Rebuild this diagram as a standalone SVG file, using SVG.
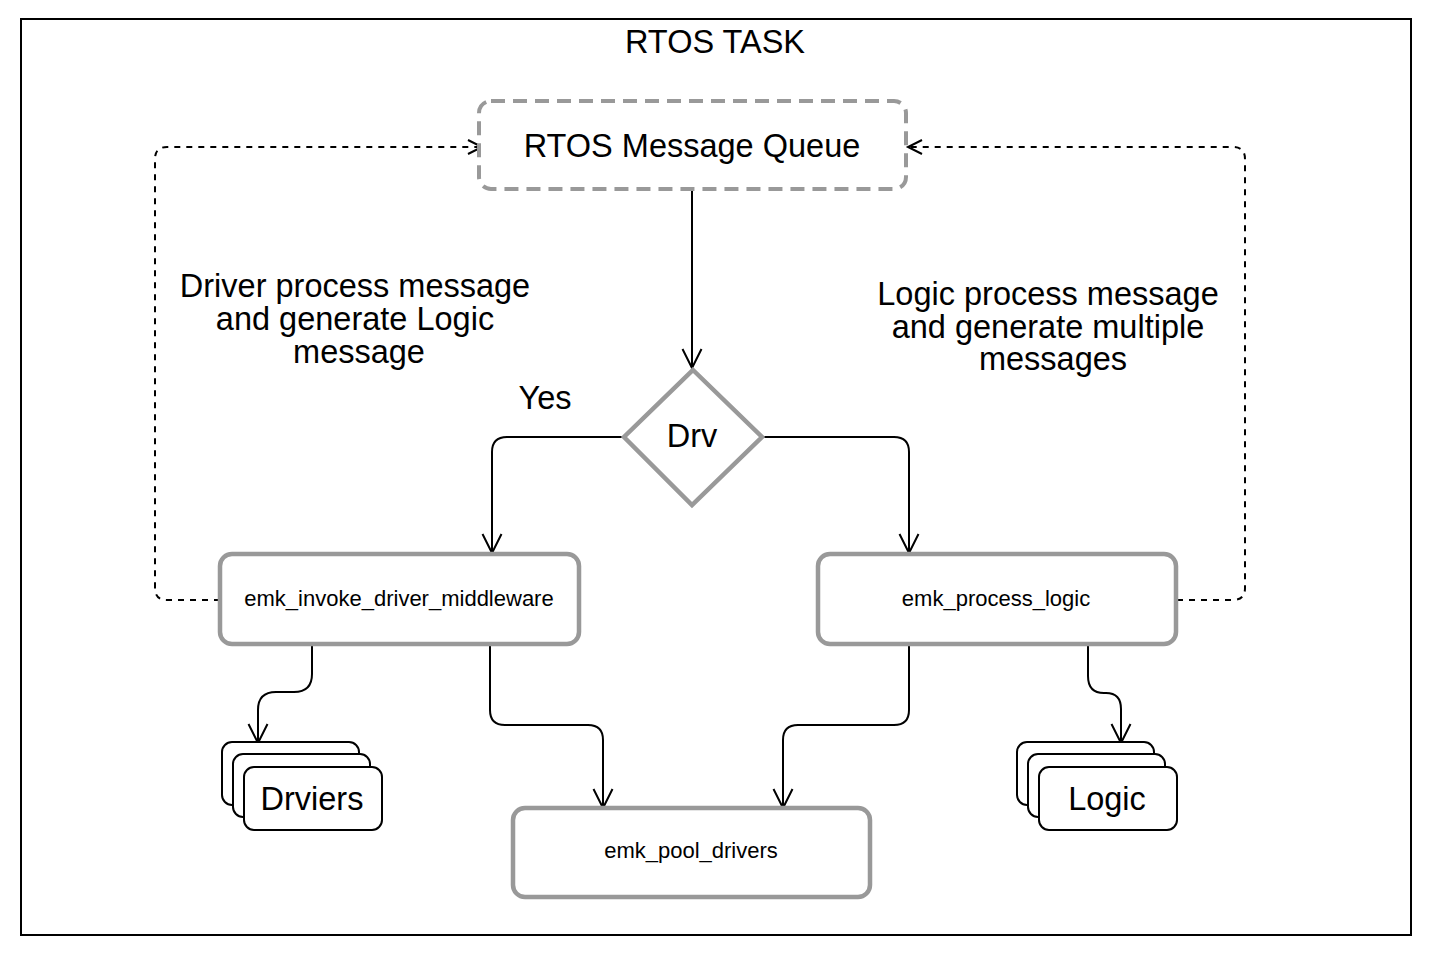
<svg xmlns="http://www.w3.org/2000/svg" width="1434" height="956" viewBox="0 0 1434 956">
<style>
text{font-family:"Liberation Sans",Arial,Helvetica,sans-serif;fill:#000;text-anchor:middle}
.big{font-size:32.5px}
.small{font-size:22px}
.box{fill:#fff;stroke:#999;stroke-width:4.5}
.stack{fill:#fff;stroke:#000;stroke-width:2}
.conn{fill:none;stroke:#000;stroke-width:2}
.dash{fill:none;stroke:#000;stroke-width:2;stroke-dasharray:6 6}
</style>
<defs>
<marker id="open" viewBox="-22 -12 26 24" refX="0" refY="0" markerWidth="26" markerHeight="24" markerUnits="userSpaceOnUse" orient="auto" overflow="visible">
<path d="M-19,-9.5 L0,0 L-19,9.5" fill="none" stroke="#000" stroke-width="2"/>
</marker>
<marker id="openS" viewBox="-16 -10 20 20" refX="0" refY="0" markerWidth="20" markerHeight="20" markerUnits="userSpaceOnUse" orient="auto" overflow="visible">
<path d="M-14,-7 L0,0 L-14,7" fill="none" stroke="#000" stroke-width="2"/>
</marker>
</defs>
<rect width="1434" height="956" fill="#fff"/>
<g id="frame">
<rect x="21" y="19" width="1390" height="916" fill="none" stroke="#000" stroke-width="2"/>
<text class="big" x="715" y="53">RTOS TASK</text>
</g>
<g id="connectors">
<path class="conn" d="M692 190 V368" marker-end="url(#open)"/>
<path class="conn" d="M624 437 H507 Q492 437 492 452 V553" marker-end="url(#open)"/>
<path class="conn" d="M762 437 H894 Q909 437 909 452 V553" marker-end="url(#open)"/>
<path class="conn" d="M312 646 V674 Q312 692 294 692 H276 Q258 692 258 710 V743" marker-end="url(#open)"/>
<path class="conn" d="M490 646 V710 Q490 725 505 725 H588 Q603 725 603 740 V808" marker-end="url(#open)"/>
<path class="conn" d="M909 646 V710 Q909 725 894 725 H798 Q783 725 783 740 V808" marker-end="url(#open)"/>
<path class="conn" d="M1088 646 V676 Q1088 693 1104 693 H1106 Q1121 693 1121 709 V743" marker-end="url(#open)"/>
<path class="dash" d="M220 600 H167 Q155 600 155 588 V159 Q155 147 167 147 H482" marker-end="url(#openS)"/>
<path class="dash" d="M1177 600 H1233 Q1245 600 1245 588 V159 Q1245 147 1233 147 H908" marker-end="url(#openS)"/>
</g>
<g id="queue">
<rect x="479" y="101" width="427" height="88" rx="12" fill="#fff" stroke="#999" stroke-width="4" stroke-dasharray="14 8"/>
<text class="big" x="692" y="157">RTOS Message Queue</text>
</g>
<g id="drv">
<polygon points="693,370 762,437 692,505 624,437" class="box"/>
<text class="big" x="692" y="447">Drv</text>
</g>
<g id="label-yes"><text class="big" x="545" y="409">Yes</text></g>
<g id="label-left">
<text class="big" x="355" y="297">Driver process message</text>
<text class="big" x="355" y="330">and generate Logic</text>
<text class="big" x="359" y="363">message</text>
</g>
<g id="label-right">
<text class="big" x="1048" y="305">Logic process message</text>
<text class="big" x="1048" y="338">and generate multiple</text>
<text class="big" x="1053" y="370">messages</text>
</g>
<g id="invoke">
<rect x="220" y="554" width="359" height="90" rx="12" class="box"/>
<text class="small" x="399" y="606">emk_invoke_driver_middleware</text>
</g>
<g id="process">
<rect x="818" y="554" width="358" height="90" rx="12" class="box"/>
<text class="small" x="996" y="606">emk_process_logic</text>
</g>
<g id="pool">
<rect x="513" y="808" width="357" height="89" rx="12" class="box"/>
<text class="small" x="691" y="858">emk_pool_drivers</text>
</g>
<g id="drivers">
<rect x="222" y="742" width="137" height="63" rx="10" class="stack"/>
<rect x="233" y="754" width="137" height="63" rx="10" class="stack"/>
<rect x="244" y="767" width="138" height="63" rx="10" class="stack"/>
<text class="big" x="312" y="810">Drviers</text>
</g>
<g id="logic">
<rect x="1017" y="742" width="137" height="63" rx="10" class="stack"/>
<rect x="1028" y="754" width="137" height="63" rx="10" class="stack"/>
<rect x="1039" y="767" width="138" height="63" rx="10" class="stack"/>
<text class="big" x="1107" y="810">Logic</text>
</g>
</svg>
